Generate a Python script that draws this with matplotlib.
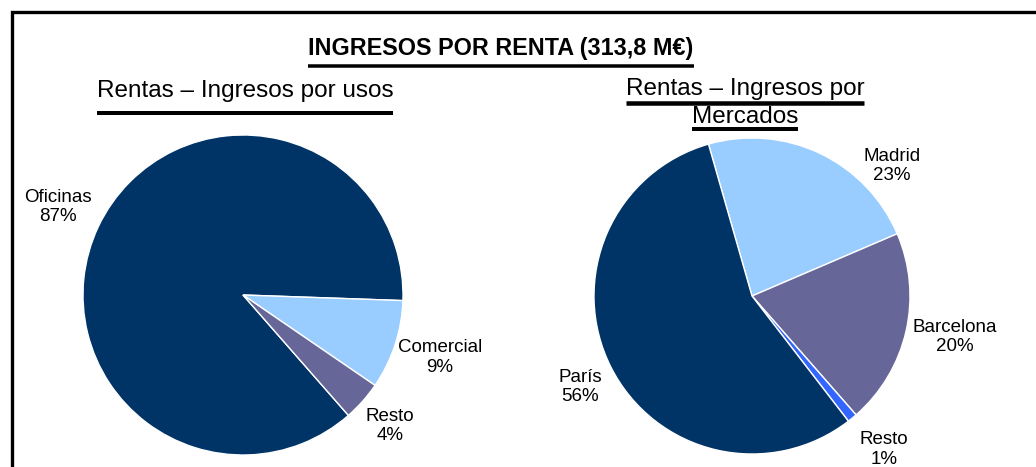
import matplotlib
matplotlib.use('Agg')
import matplotlib.pyplot as plt
from matplotlib.lines import Line2D
from matplotlib.patches import Rectangle

plt.rcParams['font.family'] = ['Liberation Sans', 'DejaVu Sans']

# data
usos_labels = ['Oficinas', 'Comercial', 'Resto']
usos_values = [87, 9, 4]
mercados_labels = ['Madrid', 'Barcelona', 'Resto', 'París']
mercados_values = [23, 20, 1, 56]

navy = '#003366'
light = '#99CCFF'
purple = '#666699'
bright = '#3366FF'

W, H = 1036, 467
fig = plt.figure(figsize=(W / 100, H / 100), dpi=100)


def pie_axes(cx, cy, r):
    ax = fig.add_axes([(cx - r) / W, 1 - (cy + r) / H, 2 * r / W, 2 * r / H])
    return ax


def draw_pie(ax, values, labels, colors, start, label_pos):
    ax.pie(values, colors=colors, startangle=start, counterclock=False,
           wedgeprops=dict(edgecolor='white', linewidth=1))
    ax.set_xlim(-1, 1)
    ax.set_ylim(-1, 1)
    ax.set_aspect('auto')
    ax.axis('off')
    for lab, v, (x, y) in zip(labels, values, label_pos):
        ax.text(x, y, f'{lab}\n{v}%', ha='center', va='center', fontsize=13.5,
                linespacing=1.2, color='black')


ax1 = pie_axes(243, 295, 160)
draw_pie(ax1, usos_values, usos_labels, [navy, light, purple], 311.2,
         [(-1.156, 0.55), (1.23, -0.39), (0.92, -0.82)])

ax2 = pie_axes(752, 296, 158)
draw_pie(ax2, mercados_values, mercados_labels, [light, purple, bright, navy], 106,
         [(0.886, 0.823), (1.285, -0.26), (0.835, -0.97), (-1.089, -0.576)])

# frame (cut by the right and bottom edge)
fig.add_artist(Rectangle((12 / W, -0.05), 1.1, 1 - 12 / H + 0.05, transform=fig.transFigure,
                         fill=False, edgecolor='black', linewidth=2.4))

titles = [
    ('INGRESOS POR RENTA (313,8 M€)', 501, 55, 16.8, 'bold', 65.5, 3.5),
    ('Rentas – Ingresos por usos', 245, 97, 17.5, 'normal', 113, 4),
    ('Rentas – Ingresos por', 745, 95, 17.5, 'normal', 103, 4.5),
    ('Mercados', 745, 123, 17.5, 'normal', 128.5, 4),
]
texts = []
for s, x, y, size, weight, uy, ulw in titles:
    t = fig.text(x / W, 1 - y / H, s, ha='center', va='baseline', fontsize=size,
                 fontweight=weight, color='black')
    texts.append((t, uy, ulw))

renderer = fig.canvas.get_renderer()
for t, uy, ulw in texts:
    bb = t.get_window_extent(renderer)
    yy = 1 - uy / H
    fig.add_artist(Line2D([bb.x0 / W, bb.x1 / W], [yy, yy], transform=fig.transFigure,
                          color='black', linewidth=ulw * 0.72, solid_capstyle='butt'))

fig.savefig('out.png', dpi=100, facecolor='white')
